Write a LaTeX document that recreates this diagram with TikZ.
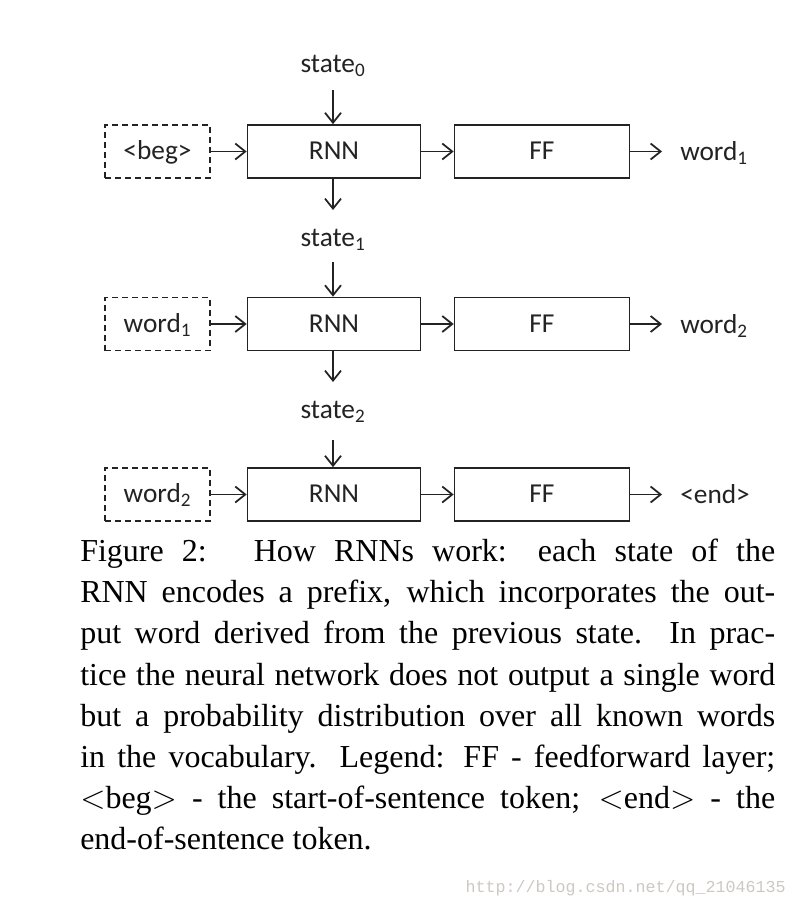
\documentclass[tikz,border=0pt]{standalone}
\usepackage{fontspec}
\setmainfont{Liberation Serif}
\newfontfamily\diagfont{Carlito}
\newfontfamily\wmfont{Liberation Mono}
\usetikzlibrary{arrows.meta}
\definecolor{wmgray}{RGB}{205,200,195}
\definecolor{ink}{RGB}{35,35,35}
\tikzset{
  px/.style={x=0.75pt,y=-0.75pt},
  dfont/.style={font=\diagfont\fontsize{20.5}{24}\selectfont},
  box/.style={draw=ink,line width=1.3pt,inner sep=0pt,minimum height=39.75pt,dfont,text=ink,text height=12pt,text depth=0pt},
  inbox/.style={box,dashed,dash pattern=on 4.5pt off 3pt,line width=1.1pt,minimum width=78.75pt},
  rnnbox/.style={box,minimum width=129.75pt},
  ffbox/.style={box,minimum width=131.25pt},
  lab/.style={inner sep=0pt,dfont,text=ink},
  arr/.style={draw=ink,line width=1.3pt,-{Straight Barb[length=7.5pt,width=12pt,line width=1.3pt]}},
  captxt/.style={anchor=base west,inner sep=0pt,font=\fontsize{24}{29}\selectfont},
}
\begin{document}
\begin{tikzpicture}[px]
\path[use as bounding box,fill=white] (0,0) rectangle (798,906);
% row 1
\node[inbox] (in1) at (157.5,151.5) {<beg>};
\node[rnnbox] (rnn1) at (334,151.5) {RNN};
\node[ffbox] (ff1) at (542,151.5) {FF};
\node[lab,anchor=west] (out1) at (680,153) {word\textsubscript{1}};
\coordinate (o1) at (662,151.5);
\node[lab] (s0) at (333,66) {state\textsubscript{0}};
\coordinate (s0a) at (333,90);
% row 2
\node[inbox] (in2) at (157.5,324) {word\textsubscript{1}};
\node[rnnbox] (rnn2) at (334,324) {RNN};
\node[ffbox] (ff2) at (542,324) {FF};
\node[lab,anchor=west] (out2) at (680,326) {word\textsubscript{2}};
\coordinate (o2) at (662,324);
\node[lab] (s1) at (333,240) {state\textsubscript{1}};
\coordinate (s1b) at (333,210);
\coordinate (s1a) at (333,262);
% row 3
\node[inbox] (in3) at (157.5,494.5) {word\textsubscript{2}};
\node[rnnbox] (rnn3) at (334,494.5) {RNN};
\node[ffbox] (ff3) at (542,494.5) {FF};
\node[lab,anchor=west] (out3) at (680,494.5) {<end>};
\coordinate (o3) at (662,494.5);
\node[lab] (s2) at (333,412) {state\textsubscript{2}};
\coordinate (s2b) at (333,382);
\coordinate (s2a) at (333,440);
% arrows
\foreach \i in {1,2,3}{
  \draw[arr] (in\i.east) -- (rnn\i.west);
  \draw[arr] (rnn\i.east) -- (ff\i.west);
  \draw[arr] (ff\i.east) -- (o\i);
}
\draw[arr] (s0a) -- (s0a |- rnn1.north);
\draw[arr] (s1b |- rnn1.south) -- (s1b);
\draw[arr] (s1a) -- (s1a |- rnn2.north);
\draw[arr] (s2b |- rnn2.south) -- (s2b);
\draw[arr] (s2a) -- (s2a |- rnn3.north);
% caption
\node[captxt] (c1) at (80,561) {\makebox[521.25pt][s]{Figure 2:\hspace{0.5em} How RNNs work: each state of the}};
\node[captxt] (c2) at (80,602) {\makebox[521.25pt][s]{RNN encodes a prefix, which incorporates the out-}};
\node[captxt] (c3) at (80,643) {\makebox[521.25pt][s]{put word derived from the previous state. In prac-}};
\node[captxt] (c4) at (80,685) {\makebox[521.25pt][s]{tice the neural network does not output a single word}};
\node[captxt] (c5) at (80,726) {\makebox[521.25pt][s]{but a probability distribution over all known words}};
\node[captxt] (c6) at (80,767) {\makebox[521.25pt][s]{in the vocabulary. Legend: FF - feedforward layer;}};
\node[captxt] (c7) at (80,808) {\makebox[521.25pt][s]{$<$beg$>$ - the start-of-sentence token; $<$end$>$ - the}};
\node[captxt] (c8) at (80,849) {end-of-sentence token.};
% watermark
\node[anchor=base east,inner sep=0pt,text=wmgray,font=\wmfont\fontsize{12.5}{14}\selectfont] (wm) at (786,892) {http://blog.csdn.net/qq\_21046135};
\end{tikzpicture}
\end{document}
